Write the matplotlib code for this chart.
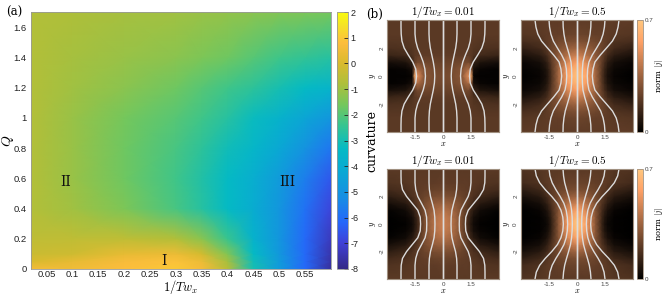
import numpy as np
import matplotlib
matplotlib.use('Agg')
import matplotlib.pyplot as plt
from matplotlib.colors import LinearSegmentedColormap

plt.rcParams['font.family'] = 'Liberation Sans'
plt.rcParams['mathtext.fontset'] = 'cm'
plt.rcParams['axes.unicode_minus'] = False

# ---- (a) curvature map ----
inv_tw = [0.02, 0.1, 0.2, 0.3, 0.35, 0.4, 0.45, 0.5, 0.55, 0.6]
q_vals = [0, 0.05, 0.1, 0.2, 0.4, 0.6, 0.8, 1.0, 1.2, 1.4, 1.7]
curvature = [
    [0.6, 0.5, 0.8, 1.0, 0.6, -0.6, -3.0, -4.7, -6.1, -7.7],
    [0.0, 0.3, 0.7, 0.9, 0.4, -0.9, -3.1, -4.7, -6.1, -7.6],
    [-0.3, -0.2, 0.3, 0.4, -0.1, -1.4, -3.3, -4.8, -6.1, -7.5],
    [-0.5, -0.5, -0.5, -0.7, -1.3, -2.4, -3.7, -4.9, -6.1, -7.3],
    [-0.7, -1.0, -1.5, -2.2, -2.7, -3.3, -4.0, -4.9, -5.9, -6.9],
    [-0.7, -1.1, -1.7, -2.3, -2.8, -3.3, -3.9, -4.7, -5.6, -6.5],
    [-0.7, -1.1, -1.7, -2.2, -2.6, -3.1, -3.5, -4.2, -5.0, -5.8],
    [-0.7, -1.1, -1.6, -2.0, -2.3, -2.7, -3.2, -3.7, -4.3, -4.9],
    [-0.7, -1.0, -1.3, -1.7, -2.0, -2.3, -2.6, -3.0, -3.3, -3.6],
    [-0.7, -0.9, -1.1, -1.3, -1.5, -1.7, -2.0, -2.3, -2.5, -2.7],
    [-0.7, -0.8, -0.9, -1.0, -1.1, -1.2, -1.3, -1.4, -1.5, -1.6],
]
regions = ['I', 'II', 'III']
region_x = [0.277, 0.087, 0.515]
region_q = [0.05, 0.574, 0.574]

# ---- (b) current norm fields (one quadrant, mirrored) ----
px_nodes = [0, 0.5, 1.0, 1.35, 1.5, 1.65, 2.0, 3.0]
py_nodes = [0, 0.5, 1.0, 1.5, 2.0, 2.5, 3.0, 4.0]
field_tl = [
    [0.26, 0.27, 0.30, 0.50, 0.62, 0.02, 0.01, 0.01],
    [0.25, 0.26, 0.29, 0.38, 0.33, 0.05, 0.02, 0.01],
    [0.23, 0.24, 0.25, 0.26, 0.22, 0.12, 0.07, 0.05],
    [0.21, 0.21, 0.21, 0.21, 0.20, 0.18, 0.15, 0.13],
    [0.20, 0.20, 0.20, 0.20, 0.20, 0.19, 0.18, 0.17],
    [0.20, 0.20, 0.20, 0.20, 0.20, 0.20, 0.19, 0.19],
    [0.20, 0.20, 0.20, 0.20, 0.20, 0.20, 0.20, 0.20],
    [0.20, 0.20, 0.20, 0.20, 0.20, 0.20, 0.20, 0.20],
]
field_tr = [
    [0.68, 0.58, 0.36, 0.18, 0.11, 0.06, 0.02, 0.00],
    [0.64, 0.55, 0.35, 0.19, 0.12, 0.07, 0.03, 0.01],
    [0.56, 0.48, 0.33, 0.21, 0.15, 0.10, 0.05, 0.02],
    [0.45, 0.40, 0.31, 0.23, 0.19, 0.15, 0.10, 0.06],
    [0.35, 0.33, 0.28, 0.24, 0.22, 0.19, 0.15, 0.11],
    [0.28, 0.27, 0.25, 0.23, 0.22, 0.21, 0.18, 0.16],
    [0.24, 0.23, 0.22, 0.22, 0.21, 0.21, 0.20, 0.19],
    [0.21, 0.21, 0.21, 0.21, 0.21, 0.21, 0.21, 0.21],
]
field_bl = [
    [0.45, 0.40, 0.27, 0.14, 0.08, 0.04, 0.01, 0.00],
    [0.44, 0.39, 0.27, 0.15, 0.10, 0.05, 0.02, 0.00],
    [0.40, 0.36, 0.27, 0.18, 0.13, 0.09, 0.04, 0.01],
    [0.34, 0.32, 0.26, 0.20, 0.17, 0.14, 0.09, 0.05],
    [0.28, 0.27, 0.24, 0.21, 0.19, 0.17, 0.14, 0.10],
    [0.24, 0.23, 0.22, 0.21, 0.20, 0.19, 0.17, 0.15],
    [0.22, 0.21, 0.21, 0.21, 0.20, 0.20, 0.19, 0.18],
    [0.20, 0.20, 0.20, 0.20, 0.20, 0.20, 0.20, 0.20],
]
field_br = [
    [0.70, 0.56, 0.30, 0.12, 0.06, 0.03, 0.01, 0.00],
    [0.66, 0.53, 0.30, 0.13, 0.07, 0.04, 0.01, 0.00],
    [0.58, 0.47, 0.29, 0.15, 0.10, 0.06, 0.02, 0.00],
    [0.46, 0.40, 0.28, 0.18, 0.14, 0.10, 0.05, 0.02],
    [0.35, 0.32, 0.26, 0.20, 0.17, 0.14, 0.09, 0.05],
    [0.27, 0.26, 0.24, 0.21, 0.20, 0.18, 0.14, 0.10],
    [0.23, 0.23, 0.22, 0.21, 0.21, 0.20, 0.18, 0.15],
    [0.20, 0.20, 0.20, 0.20, 0.20, 0.20, 0.19, 0.18],
]

# streamlines: x position of each line at y = line_y (upper half, right side)
line_y = [0, 0.5, 1.0, 1.5, 2.0, 2.5, 3.0, 3.5, 4.0]
lines_tl = [
    [0, 0, 0, 0, 0, 0, 0, 0, 0],
    [0.44, 0.46, 0.52, 0.60, 0.68, 0.73, 0.75, 0.75, 0.75],
    [0.94, 0.97, 1.06, 1.20, 1.36, 1.46, 1.50, 1.50, 1.50],
    [1.42, 1.46, 1.62, 1.86, 2.08, 2.20, 2.24, 2.25, 2.25],
]
lines_tr = [
    [0, 0, 0, 0, 0, 0, 0, 0, 0],
    [0.28, 0.29, 0.32, 0.41, 0.52, 0.63, 0.70, 0.74, 0.75],
    [0.55, 0.57, 0.64, 0.82, 1.05, 1.27, 1.40, 1.47, 1.50],
    [0.82, 0.86, 0.96, 1.25, 1.58, 1.90, 2.10, 2.20, 2.25],
]
lines_bl = [
    [0, 0, 0, 0, 0, 0, 0, 0, 0],
    [0.43, 0.44, 0.48, 0.57, 0.67, 0.73, 0.75, 0.75, 0.75],
    [0.87, 0.88, 0.96, 1.15, 1.35, 1.46, 1.50, 1.50, 1.50],
    [1.20, 1.22, 1.35, 1.65, 1.95, 2.17, 2.24, 2.25, 2.25],
]
lines_br = [
    [0, 0, 0, 0, 0, 0, 0, 0, 0],
    [0.25, 0.26, 0.29, 0.35, 0.45, 0.56, 0.66, 0.72, 0.75],
    [0.50, 0.52, 0.58, 0.70, 0.90, 1.13, 1.33, 1.45, 1.50],
    [0.73, 0.76, 0.86, 1.05, 1.35, 1.70, 2.00, 2.18, 2.25],
]
panel_titles = ['0.01', '0.5', '0.01', '0.5']

# approximate MATLAB parula
parula = LinearSegmentedColormap.from_list('parula', [
    (0.00, (0.208, 0.166, 0.529)),
    (0.10, (0.250, 0.250, 0.840)),
    (0.18, (0.150, 0.400, 0.980)),
    (0.28, (0.090, 0.560, 0.890)),
    (0.38, (0.040, 0.660, 0.830)),
    (0.47, (0.020, 0.730, 0.770)),
    (0.56, (0.220, 0.770, 0.560)),
    (0.64, (0.460, 0.780, 0.360)),
    (0.72, (0.680, 0.750, 0.230)),
    (0.80, (0.850, 0.730, 0.180)),
    (0.88, (0.990, 0.740, 0.240)),
    (0.95, (0.960, 0.890, 0.150)),
    (1.00, (0.976, 0.983, 0.054)),
])

fig = plt.figure(figsize=(6.64, 2.96), dpi=100)
W, H = 664, 296


def box(x0, y0, x1, y1):
    return [x0 / W, 1 - y1 / H, (x1 - x0) / W, (y1 - y0) / H]


# ---- panel (a) ----
ax = fig.add_axes(box(31, 12, 331, 269))
mesh = ax.pcolormesh(inv_tw, q_vals, np.array(curvature), cmap=parula,
                     vmin=-8, vmax=2, shading='gouraud')
ax.set_xlim(0.02, 0.6)
ax.set_ylim(0, 1.7)
ax.set_xticks(np.arange(0.05, 0.56, 0.05))
ax.set_xticklabels(['%g' % round(v, 2) for v in np.arange(0.05, 0.56, 0.05)])
ax.set_yticks(np.arange(0, 1.61, 0.2))
ax.set_yticklabels(['%g' % round(v, 1) for v in np.arange(0, 1.61, 0.2)])
ax.tick_params(labelsize=6.8, length=0, pad=3, colors='#222222')
ax.tick_params(axis='x', pad=1)
for s in ax.spines.values():
    s.set_color('#999999')
    s.set_linewidth(0.6)
fig.text(181 / W, 1 - 296 / H, r'$1/Tw_x$', fontsize=9,
         ha='center', va='bottom')
ax.set_ylabel(r'$Q$', fontsize=10)
ax.yaxis.set_label_coords(-0.05, 0.5)
for name, xr, qr in zip(regions, region_x, region_q):
    ax.text(xr, qr, name, family='DejaVu Serif', fontsize=10,
            ha='center', va='center', color='#111111')
fig.text(6 / W, 1 - 12 / H, '(a)', family='DejaVu Serif', fontsize=8.5,
         va='center')

cax = fig.add_axes(box(337, 12, 348, 269))
cb = fig.colorbar(mesh, cax=cax)
cb.set_ticks(range(-8, 3))
cb.ax.tick_params(labelsize=6.5, direction='in', length=3, width=0.6,
                  pad=2, colors='#222222')
cb.outline.set_edgecolor('#999999')
cb.outline.set_linewidth(0.6)
cb.set_label('curvature', family='DejaVu Serif', fontsize=9, labelpad=5)

# ---- panel (b) ----
xf = np.concatenate([-np.array(px_nodes)[::-1], np.array(px_nodes)[1:]])
yf = np.concatenate([-np.array(py_nodes)[::-1], np.array(py_nodes)[1:]])
ly = np.array(line_y)
lyf = np.concatenate([-ly[::-1], ly[1:]])

panels = [
    (box(387, 20, 499, 132), field_tl, lines_tl),
    (box(521, 20, 633, 132), field_tr, lines_tr),
    (box(387, 169, 499, 279), field_bl, lines_bl),
    (box(521, 169, 633, 279), field_br, lines_br),
]
for k, (rect, field, lines) in enumerate(panels):
    f = np.array(field)
    f = np.hstack([f[:, ::-1], f[:, 1:]])
    f = np.vstack([f[::-1, :], f[1:, :]])
    bx = fig.add_axes(rect)
    m = bx.pcolormesh(xf, yf, f, cmap='copper', vmin=0, vmax=0.7,
                      shading='gouraud')
    for xs in lines:
        xs = np.array(xs)
        xfull = np.concatenate([xs[::-1], xs[1:]])
        for sgn in (1, -1):
            bx.plot(sgn * xfull, lyf, color='#dcdcdc', lw=1.0)
    bx.set_xlim(-3, 3)
    bx.set_ylim(-4, 4)
    bx.set_xticks([-1.5, 0, 1.5])
    bx.set_xticklabels(['-1.5', '0', '1.5'])
    bx.set_yticks([-2, 0, 2])
    bx.set_yticklabels(['-2', '0', '2'], rotation=90, va='center')
    bx.tick_params(labelsize=4.5, length=0, pad=2, colors='#444444')
    for s in bx.spines.values():
        s.set_color('#a09080')
        s.set_linewidth(0.8)
    bx.set_title(r'$1/Tw_x = %s$' % panel_titles[k], fontsize=8, pad=2)
    bx.set_xlabel(r'$x$', fontsize=6, labelpad=0)
    bx.set_ylabel(r'$y$', fontsize=6, labelpad=1)
    if k % 2 == 1:
        top, bot = (20, 132) if k == 1 else (169, 279)
        ccx = fig.add_axes(box(637, top, 643, bot))
        c2 = fig.colorbar(m, cax=ccx)
        c2.set_ticks([0, 0.7])
        c2.set_ticklabels(['0', '0.7'])
        c2.ax.tick_params(labelsize=4.5, length=0, pad=1, colors='#444444')
        c2.outline.set_edgecolor('#a09080')
        c2.outline.set_linewidth(0.6)
        c2.set_label(r'norm $|j|$', family='DejaVu Serif', fontsize=6)
        c2.ax.yaxis.set_label_coords(2.7, 0.5)

fig.text(366 / W, 1 - 14 / H, '(b)', family='DejaVu Serif', fontsize=8.5,
         va='center')

fig.savefig('out.png', dpi=100)
